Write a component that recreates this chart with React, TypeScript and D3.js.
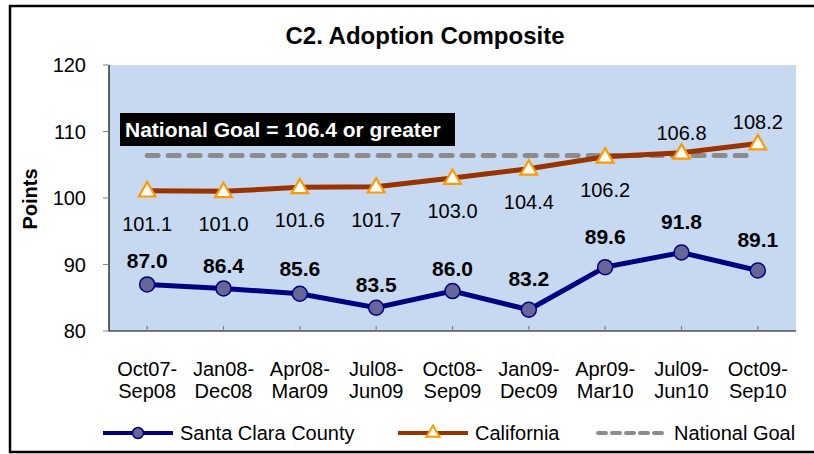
import React from "react";
import * as d3 from "d3";

const categories: string[][] = [
  ["Oct07-", "Sep08"],
  ["Jan08-", "Dec08"],
  ["Apr08-", "Mar09"],
  ["Jul08-", "Jun09"],
  ["Oct08-", "Sep09"],
  ["Jan09-", "Dec09"],
  ["Apr09-", "Mar10"],
  ["Jul09-", "Jun10"],
  ["Oct09-", "Sep10"],
];
const santaClara = [87.0, 86.4, 85.6, 83.5, 86.0, 83.2, 89.6, 91.8, 89.1];
const california = [101.1, 101.0, 101.6, 101.7, 103.0, 104.4, 106.2, 106.8, 108.2];
const nationalGoal = 106.4;
const yTicks = [80, 90, 100, 110, 120];
const title = "C2. Adoption Composite";
const yTitle = "Points";
const goalLabel = "National Goal = 106.4 or greater";
const seriesNames = ["Santa Clara County", "California", "National Goal"];

// label placement (pixel offsets of label centre from point), styling only
const santaLabelDy = [-24, -23, -25, -23, -23, -31, -31, -31, -31];
const caliLabelDy = [33, 33, 33, 33, 33, 33, 33, -20, -21];

const FONT = "'Liberation Sans', Arial, sans-serif";
const W = 814;
const H = 454;
const plot = { left: 109, right: 796, top: 65, bottom: 331 };

export default function App() {
  const x = d3
    .scaleBand<number>()
    .domain(d3.range(categories.length))
    .range([plot.left, plot.right])
    .paddingInner(0)
    .paddingOuter(0);
  const cx = (i: number) => (x(i) as number) + x.bandwidth() / 2;
  const y = d3.scaleLinear().domain([80, 120]).range([plot.bottom, plot.top]);

  const line = d3
    .line<number>()
    .x((_, i) => cx(i))
    .y((d) => y(d));

  const tri = d3.symbol().type(d3.symbolTriangle).size(120)() as string;
  const triSmall = d3.symbol().type(d3.symbolTriangle).size(75)() as string;

  const navy = "#000080";
  const circleFill = "#666699";
  const brown = "#993300";
  const orange = "#FF9900";
  const gray = "#8C8C8C";

  const legendY = 433;

  return (
    <svg
      width={W}
      height={H}
      style={{ position: "absolute", left: 0, top: 0, fontFamily: FONT }}
    >
      <rect x={0} y={0} width={W} height={H} fill="#ffffff" />
      <rect x={10} y={6} width={900} height={446} fill="none" stroke="#000" strokeWidth={2.5} />

      <text x={425} y={44} textAnchor="middle" fontSize={24} fontWeight="bold" fill="#000">
        {title}
      </text>

      {/* plot area */}
      <rect
        x={plot.left}
        y={plot.top}
        width={plot.right - plot.left}
        height={plot.bottom - plot.top}
        fill="#C6D9F1"
      />

      {/* y axis */}
      <line x1={plot.left} x2={plot.left} y1={plot.top} y2={plot.bottom} stroke="#000" strokeWidth={1.2} />
      {yTicks.map((t) => (
        <g key={t}>
          <line x1={plot.left - 6} x2={plot.left} y1={y(t)} y2={y(t)} stroke="#808080" strokeWidth={1} />
          <text x={86} y={y(t) + 7} textAnchor="end" fontSize={20} fill="#000">
            {t}
          </text>
        </g>
      ))}
      <text
        transform={`translate(30,199) rotate(-90)`}
        textAnchor="middle"
        dominantBaseline="central"
        fontSize={20}
        fontWeight="bold"
        fill="#000"
      >
        {yTitle}
      </text>

      {/* x axis */}
      <line x1={plot.left} x2={plot.right} y1={plot.bottom} y2={plot.bottom} stroke="#000" strokeWidth={1.2} />
      {categories.map((c, i) => (
        <g key={i}>
          <line x1={cx(i)} x2={cx(i)} y1={plot.bottom} y2={plot.bottom - 5} stroke="#808080" strokeWidth={1.2} />
          <text x={cx(i)} y={376} textAnchor="middle" fontSize={20} fill="#000">
            {c[0]}
          </text>
          <text x={cx(i)} y={398} textAnchor="middle" fontSize={20} fill="#000">
            {c[1]}
          </text>
        </g>
      ))}

      {/* goal label box */}
      <rect x={120} y={113} width={335} height={33} fill="#000" />
      <text x={125} y={137} fontSize={21} fontWeight="bold" fill="#fff">
        {goalLabel}
      </text>

      {/* national goal */}
      <line
        x1={cx(0)}
        x2={cx(categories.length - 1) - 6}
        y1={y(nationalGoal)}
        y2={y(nationalGoal)}
        stroke={gray}
        strokeWidth={5}
        strokeDasharray="11 10"
        strokeLinecap="round"
      />

      {/* california */}
      <path d={line(california) as string} fill="none" stroke={brown} strokeWidth={5} />
      {california.map((v, i) => (
        <g key={i}>
          <path
            d={tri}
            transform={`translate(${cx(i)},${y(v) + 1})`}
            fill="#fff"
            stroke={orange}
            strokeWidth={2.2}
          />
          <text
            x={cx(i)}
            y={y(v) + caliLabelDy[i]}
            textAnchor="middle"
            dominantBaseline="central"
            fontSize={20}
            fill="#000"
          >
            {v.toFixed(1)}
          </text>
        </g>
      ))}

      {/* santa clara */}
      <path d={line(santaClara) as string} fill="none" stroke={navy} strokeWidth={5} />
      {santaClara.map((v, i) => (
        <g key={i}>
          <circle cx={cx(i)} cy={y(v)} r={7.5} fill={circleFill} stroke={navy} strokeWidth={1.5} />
          <text
            x={cx(i)}
            y={y(v) + santaLabelDy[i]}
            textAnchor="middle"
            dominantBaseline="central"
            fontSize={21}
            fontWeight="bold"
            fill="#000"
          >
            {v.toFixed(1)}
          </text>
        </g>
      ))}

      {/* legend */}
      <line x1={103} x2={173} y1={legendY} y2={legendY} stroke={navy} strokeWidth={4} />
      <circle cx={138} cy={legendY} r={5.5} fill={circleFill} stroke={navy} strokeWidth={1.5} />
      <text x={180} y={legendY + 7} fontSize={20} fill="#000">
        {seriesNames[0]}
      </text>

      <line x1={398} x2={468} y1={legendY} y2={legendY} stroke={brown} strokeWidth={4} />
      <path d={triSmall} transform={`translate(433,${legendY})`} fill="#fff" stroke={orange} strokeWidth={2} />
      <text x={475} y={legendY + 7} fontSize={20} fill="#000">
        {seriesNames[1]}
      </text>

      <line
        x1={598}
        x2={664}
        y1={legendY}
        y2={legendY}
        stroke={gray}
        strokeWidth={4}
        strokeDasharray="8 6"
        strokeLinecap="round"
      />
      <text x={674} y={legendY + 7} fontSize={20} fill="#000">
        {seriesNames[2]}
      </text>
    </svg>
  );
}
